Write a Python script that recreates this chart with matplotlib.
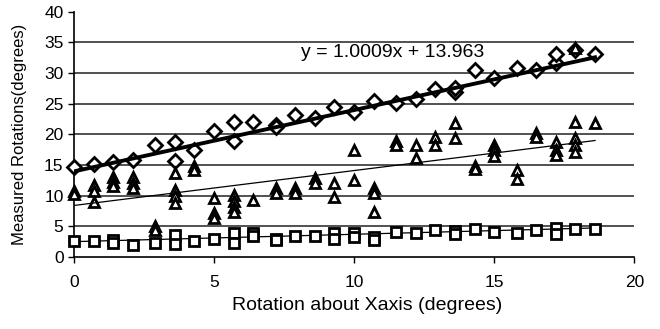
import numpy as np
import matplotlib
matplotlib.use("Agg")
import matplotlib.pyplot as plt

plt.rcParams['font.family'] = ['Liberation Sans', 'DejaVu Sans']

# rotation about X axis (degrees)
x = [0.0, 0.7, 1.4, 2.1, 2.9, 3.6, 4.3, 5.0, 5.7, 6.4, 7.2, 7.9, 8.6, 9.3,
     10.0, 10.7, 11.5, 12.2, 12.9, 13.6, 14.3, 15.0, 15.8, 16.5, 17.2, 17.9, 18.6]

# diamonds: main series + extra readings
dia_main = [14.6, 15.2, 15.5, 15.8, 18.3, 18.7, 17.4, 20.6, 22.0, 22.1, 21.6, 23.1,
            22.6, 24.4, 23.7, 25.5, 25.1, 25.8, 27.4, 27.0, 30.5, 29.2, 30.8, 30.5,
            31.6, 33.8, 33.2]
dia_extra_x = [3.6, 5.7, 7.2, 13.6, 17.2]
dia_extra_y = [15.7, 19.0, 21.2, 27.5, 33.2]

# triangles (several readings per position, nan = none)
nan = np.nan
tri_a = [10.7, 11.7, 13.1, 13.1, 5.0, 13.7, 14.8, 9.6, 10.1, 9.3, 11.2, 11.2, 12.9,
         12.0, 17.5, 11.2, 18.9, 18.3, 19.6, 21.8, 14.9, 18.3, 14.2, 20.2, 18.8, 22.1, 21.8]
tri_b = [10.2, 10.7, 12.3, 12.0, 4.4, 10.9, 14.2, 7.1, 9.2, nan, 10.4, 10.5, 12.1,
         9.8, 12.6, 10.4, 18.3, 16.1, 18.3, 19.4, 14.3, 17.4, 12.8, 19.6, 17.4, 19.4, nan]
tri_c = [nan, 9.0, 11.5, 11.3, nan, 10.0, nan, 6.4, 8.2, nan, nan, nan, nan,
         nan, nan, 7.4, nan, nan, nan, nan, nan, 16.4, nan, nan, 16.6, 18.3, nan]
tri_d = [nan, nan, nan, nan, nan, 8.8, nan, nan, 7.4, nan, nan, nan, nan,
         nan, nan, nan, nan, nan, nan, nan, nan, nan, nan, nan, nan, 17.2, nan]
tri_top_x = [17.9]
tri_top_y = [34.1]

# squares
sq_a = [2.6, 2.6, 2.7, 2.0, 2.3, 3.6, 2.6, 3.0, 3.9, 3.9, 3.0, 3.5, 3.4, 3.9,
        3.9, 3.3, 4.1, 3.9, 4.4, 4.3, 4.6, 4.1, 3.9, 4.4, 4.8, 4.6, 4.6]
sq_b = [nan, nan, 2.2, nan, nan, 2.1, nan, nan, 2.3, 3.5, 2.7, nan, nan, 3.0,
        3.3, 2.8, nan, nan, nan, 3.8, nan, nan, nan, nan, 3.8, nan, nan]

# trend lines (slope, intercept)
dia_fit = [1.0009, 13.963]
tri_fit = [0.57, 8.4]
sq_fit = [0.12, 2.5]

fig = plt.figure(figsize=(6.6, 3.29), dpi=100)
ax = fig.add_axes([0.112, 0.219, 0.849, 0.745])

for yy in range(5, 40, 5):
    ax.axhline(yy, color='#222222', lw=1.1, zorder=1)

mk = dict(mfc='white', mec='black', mew=2.0, ls='none', zorder=3, clip_on=False)
ax.plot(x, dia_main, marker='D', ms=7, **mk)
ax.plot(dia_extra_x, dia_extra_y, marker='D', ms=7, **mk)
for s in (tri_a, tri_b, tri_c, tri_d):
    ax.plot(x, s, marker='^', ms=7.5, **mk)
ax.plot(tri_top_x, tri_top_y, marker='^', ms=7.5, **mk)
for s in (sq_a, sq_b):
    ax.plot(x, s, marker='s', ms=7, **mk)

xf = np.array([x[0], x[-1]])
ax.plot(xf, dia_fit[0] * xf + dia_fit[1], color='black', lw=2.8, zorder=4)
ax.plot(xf, tri_fit[0] * xf + tri_fit[1], color='black', lw=0.9, zorder=4)
ax.plot(xf, sq_fit[0] * xf + sq_fit[1], color='black', lw=0.9, zorder=2)

ax.text(8.1, 33.4, 'y = 1.0009x + 13.963', fontsize=14, va='center', ha='left')

ax.set_xlim(0, 20)
ax.set_ylim(0, 40)
ax.set_xticks([0, 5, 10, 15, 20])
ax.set_yticks(range(0, 41, 5))
ax.spines['top'].set_visible(False)
ax.spines['right'].set_visible(False)
ax.spines['left'].set_linewidth(1.2)
ax.spines['bottom'].set_linewidth(1.2)
ax.tick_params(axis='both', labelsize=12.5, length=4, width=1)
ax.tick_params(axis='x', pad=9)
ax.set_xlabel('Rotation about Xaxis (degrees)', fontsize=14)
ax.xaxis.set_label_coords(0.523, -0.165)
ax.set_ylabel('Measured Rotations(degrees)', fontsize=12, labelpad=12)

fig.savefig('out.png', dpi=100)
